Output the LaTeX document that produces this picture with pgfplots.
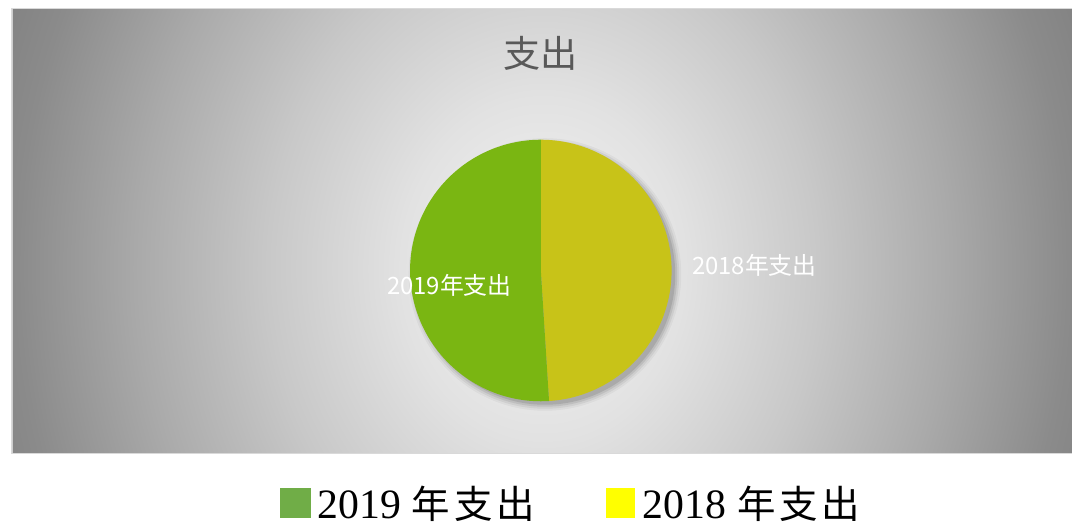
\documentclass[border=0pt]{standalone}
\usepackage{fontspec}
\usepackage{graphicx}
\usepackage{pgfplots}
\usepackage{pgfplotstable}
\pgfplotsset{compat=1.18}
\setmainfont{Noto Sans CJK SC}
\newfontfamily\cjk{Noto Sans CJK SC}
\newfontfamily\legserif{Liberation Serif}

\definecolor{piegreen}{HTML}{7AB612}
\definecolor{pieyellow}{HTML}{C8C318}
\definecolor{leggreen}{HTML}{70AD47}
\definecolor{legyellow}{HTML}{FFFF00}
\definecolor{titlegray}{HTML}{595959}
\definecolor{framegray}{HTML}{D9D9D9}
\definecolor{bgA}{gray}{0.925}
\definecolor{bgB}{gray}{0.91}
\definecolor{bgC}{gray}{0.885}
\definecolor{bgD}{gray}{0.785}
\definecolor{bgE}{gray}{0.665}
\definecolor{bgF}{gray}{0.545}
\definecolor{bgG}{gray}{0.50}

\pgfdeclareradialshading{bgshade}{\pgfpoint{0bp}{0bp}}{%
  color(0bp)=(bgA); color(4bp)=(bgB); color(6bp)=(bgC); color(11.5bp)=(bgD);
  color(17bp)=(bgE); color(22bp)=(bgF); color(25bp)=(bgG); color(50bp)=(bgG)}

\pgfplotstableread{
label value
2018 49.0
2019 51.0
}\piedata

\begin{document}
\pgfplotstablegetelem{0}{value}\of\piedata \let\vA\pgfplotsretval
\pgfplotstablegetelem{1}{value}\of\piedata \let\vB\pgfplotsretval
\pgfmathsetmacro\aMid{90-3.6*\vA}
\pgfmathsetmacro\aEnd{\aMid-3.6*\vB}
\begin{tikzpicture}
\begin{scope}[x=0.75pt,y=-0.75pt]
  \useasboundingbox (0,0) rectangle (1072,530);
  \fill[framegray] (5,8) rectangle (1072,457);
  \begin{scope}
    \clip (7,10) rectangle (1072,455);
    \shade[shading=bgshade] (-60,-450) rectangle (1140,990);
  \end{scope}
  \node[text=titlegray, font=\fontsize{28}{30}\selectfont\cjk] at (538,54) {支出};
  % legend
  \fill[leggreen] (276,491) rectangle (307,521);
  \node[anchor=base west, inner sep=0pt, font=\fontsize{31.5}{32}\selectfont\legserif] at (313,521) {2019};
  \node[anchor=base west, inner sep=0pt, font=\fontsize{29}{30}\selectfont\cjk] at (408,521) {年\hspace{3pt}支\hspace{3pt}出};
  \fill[legyellow] (603,491) rectangle (633,521);
  \node[anchor=base west, inner sep=0pt, font=\fontsize{31.5}{32}\selectfont\legserif] at (640,521) {2018};
  \node[anchor=base west, inner sep=0pt, font=\fontsize{29}{30}\selectfont\cjk] at (735,521) {年\hspace{3pt}支\hspace{3pt}出};
  % pie shadow (soft)
  \fill[black, opacity=0.04] (542,276) circle[radius=137];
  \fill[black, opacity=0.06] (542,276) circle[radius=135];
  \fill[black, opacity=0.08] (542,276) circle[radius=133];
  \fill[black, opacity=0.10] (542,276) circle[radius=131];
\end{scope}
\begin{axis}[
  at={(403.4pt,-204pt)}, anchor=center,
  hide axis, scale only axis,
  width=236.7pt, height=236.7pt,
  xmin=-1.2, xmax=1.2, ymin=-1.2, ymax=1.2,
  clip=false,
]
  \addplot[draw=none, fill=pieyellow, domain=\aMid:90, samples=150, variable=\t]
    ({cos(\t)},{sin(\t)}) -- (axis cs:0,0) -- cycle;
  \addplot[draw=none, fill=piegreen, domain=\aEnd:\aMid, samples=150, variable=\t]
    ({cos(\t)},{sin(\t)}) -- (axis cs:0,0) -- cycle;
  \node[text=white, font=\fontsize{18}{20}\selectfont\cjk] at (axis cs:-0.699,-0.114) {2019年支出};
  \node[text=white, font=\fontsize{18}{20}\selectfont\cjk] at (axis cs:1.633,0.038) {2018年支出};
\end{axis}
\end{tikzpicture}
\end{document}
